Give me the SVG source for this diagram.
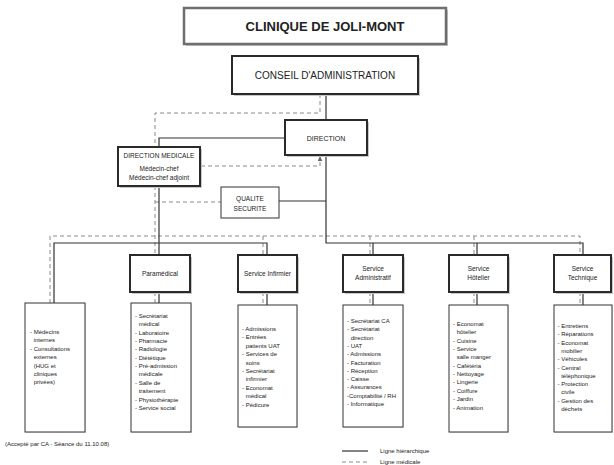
<svg xmlns="http://www.w3.org/2000/svg" width="614" height="465" viewBox="0 0 614 465">
<defs>
<style>
text{font-family:"Liberation Sans",Arial,sans-serif;fill:#222}
.shadow{fill:#c8c8c8}
.main{fill:#fff;stroke:#2a2a2a;stroke-width:2}
.thin{fill:#fff;stroke:#333;stroke-width:1}
.sol{fill:none;stroke:#333;stroke-width:1.2}
.dash{fill:none;stroke:#8a8a8a;stroke-width:1;stroke-dasharray:4 3}
.lbl{font-size:6.5px;text-anchor:middle}
.lst{font-size:6px}
</style>
<marker id="arr" viewBox="0 0 6 6" refX="5" refY="3" markerWidth="5" markerHeight="5" orient="auto">
<path d="M0,0 L6,3 L0,6 z" fill="#666"/>
</marker>
</defs>
<rect width="614" height="465" fill="#fff"/>

<g id="connectors">
<!-- dashed medical lines -->
<path class="dash" d="M320,94 V113 H155 V147"/>
<path class="dash" d="M155,186 V255"/>
<path class="dash" d="M155,202 H221"/>
<path class="dash" d="M50,303 V236 H580 V255"/>
<path class="dash" d="M263,236 V255"/>
<path class="dash" d="M370,236 V255"/>
<path class="dash" d="M474,236 V255"/>
<path class="dash" d="M201,166 H320 V157" marker-end="url(#arr)"/>
<path class="dash" d="M155,292 V304 M263,292 V305 M370,292 V305 M474,292 V305 M580,292 V305"/>
<!-- solid hierarchical lines -->
<path class="sol" d="M326,94 V120"/>
<path class="sol" d="M285,138 H159 V147"/>
<path class="sol" d="M326,155 V243 H583 V255"/>
<path class="sol" d="M373,243 V255 M477,243 V255"/>
<path class="sol" d="M279,201 H326"/>
<path class="sol" d="M159,186 V255"/>
<path class="sol" d="M54,303 V243 H267 V255"/>
<path class="sol" d="M159,292 V304 M267,292 V305 M373,292 V305 M477,292 V305 M583,292 V305"/>
</g>

<g id="title">
<rect x="186" y="10" width="262" height="36" class="shadow"/>
<rect x="184" y="8" width="262" height="36" fill="#fff" stroke="#6e6e6e" stroke-width="2.5"/>
<text x="325" y="31" font-size="13" font-weight="bold" text-anchor="middle">CLINIQUE DE JOLI-MONT</text>
</g>

<g id="conseil">
<rect x="234" y="58" width="186" height="38" class="shadow"/>
<rect x="232" y="56" width="186" height="38" class="main"/>
<text x="325" y="79" font-size="10" text-anchor="middle">CONSEIL D'ADMINISTRATION</text>
</g>

<g id="direction">
<rect x="287" y="122" width="82" height="35" class="shadow"/>
<rect x="285" y="120" width="82" height="35" class="main"/>
<text x="326" y="140.5" font-size="7" text-anchor="middle">DIRECTION</text>
</g>

<g id="direction-medicale">
<rect x="120" y="149" width="82" height="39" class="shadow"/>
<rect x="118" y="147" width="82" height="39" class="main"/>
<text x="159" y="157.5" font-size="6.5" text-anchor="middle">DIRECTION MEDICALE</text>
<text x="159" y="171" font-size="6.5" text-anchor="middle">Médecin-chef</text>
<text x="159" y="180" font-size="6.5" text-anchor="middle">Médecin-chef adjoint</text>
</g>

<g id="qualite">
<rect x="221" y="187" width="58" height="31" class="thin"/>
<text x="250" y="201" class="lbl">QUALITE</text>
<text x="250" y="211" class="lbl">SECURITE</text>
</g>

<g id="paramedical">
<rect x="132" y="257" width="60" height="37" class="shadow"/>
<rect x="130" y="255" width="60" height="37" class="main"/>
<text x="160" y="275.5" class="lbl">Paramédical</text>
</g>

<g id="service-infirmier">
<rect x="240" y="257" width="59" height="37" class="shadow"/>
<rect x="238" y="255" width="59" height="37" class="main"/>
<text x="267.5" y="276" class="lbl">Service Infirmier</text>
</g>

<g id="service-administratif">
<rect x="345" y="257" width="60" height="37" class="shadow"/>
<rect x="343" y="255" width="60" height="37" class="main"/>
<text x="373" y="271" class="lbl">Service</text>
<text x="373" y="280" class="lbl">Administratif</text>
</g>

<g id="service-hotelier">
<rect x="451" y="257" width="59" height="37" class="shadow"/>
<rect x="449" y="255" width="59" height="37" class="main"/>
<text x="478.5" y="271" class="lbl">Service</text>
<text x="478.5" y="280" class="lbl">Hôtelier</text>
</g>

<g id="service-technique">
<rect x="556" y="257" width="57" height="37" class="shadow"/>
<rect x="554" y="255" width="57" height="37" class="main"/>
<text x="582.5" y="271" class="lbl">Service</text>
<text x="582.5" y="280" class="lbl">Technique</text>
</g>

<g id="liste-medecins">
<rect x="26" y="304" width="60" height="129" fill="#e6e6e6"/>
<rect x="25" y="303" width="60" height="129" class="thin"/>
<text class="lst"><tspan x="30" y="334">- Médecins</tspan><tspan x="33.7" dy="8.4">internes</tspan><tspan x="30" dy="8.4">- Consultations</tspan><tspan x="33.7" dy="8.4">externes</tspan><tspan x="33.7" dy="8.4">(HUG et</tspan><tspan x="33.7" dy="8.4">cliniques</tspan><tspan x="33.7" dy="8.4">privées)</tspan></text>
</g>

<g id="liste-paramedical">
<rect x="132" y="304" width="60" height="129" fill="#e6e6e6"/>
<rect x="131" y="303" width="60" height="129" class="thin"/>
<text class="lst"><tspan x="135" y="318">- Secrétariat</tspan><tspan x="138.7" dy="8.35">médical</tspan><tspan x="135" dy="8.35">- Laboratoire</tspan><tspan x="135" dy="8.35">- Pharmacie</tspan><tspan x="135" dy="8.35">- Radiologie</tspan><tspan x="135" dy="8.35">- Diététique</tspan><tspan x="135" dy="8.35">- Pré-admission</tspan><tspan x="138.7" dy="8.35">médicale</tspan><tspan x="135" dy="8.35">- Salle de</tspan><tspan x="138.7" dy="8.35">traitement</tspan><tspan x="135" dy="8.35">- Physiothérapie</tspan><tspan x="135" dy="8.35">- Service social</tspan></text>
</g>

<g id="liste-infirmier">
<rect x="239" y="306" width="59" height="122" fill="#e6e6e6"/>
<rect x="238" y="305" width="59" height="122" class="thin"/>
<text class="lst"><tspan x="242" y="331">- Admissions</tspan><tspan x="242" dy="8.4">- Entrées</tspan><tspan x="245.7" dy="8.4">patients UAT</tspan><tspan x="242" dy="8.4">- Services de</tspan><tspan x="245.7" dy="8.4">soins</tspan><tspan x="242" dy="8.4">- Secrétariat</tspan><tspan x="245.7" dy="8.4">infirmier</tspan><tspan x="242" dy="8.4">- Economat</tspan><tspan x="245.7" dy="8.4">médical</tspan><tspan x="242" dy="8.4">- Pédicure</tspan></text>
</g>

<g id="liste-administratif">
<rect x="344" y="306" width="60" height="122" fill="#e6e6e6"/>
<rect x="343" y="305" width="60" height="122" class="thin"/>
<text class="lst"><tspan x="347" y="323">- Secrétariat CA</tspan><tspan x="347" dy="8.3">- Secrétariat</tspan><tspan x="350.7" dy="8.3">direction</tspan><tspan x="347" dy="8.3">- UAT</tspan><tspan x="347" dy="8.3">- Admissions</tspan><tspan x="347" dy="8.3">- Facturation</tspan><tspan x="347" dy="8.3">- Réception</tspan><tspan x="347" dy="8.3">- Caisse</tspan><tspan x="347" dy="8.3">- Assurances</tspan><tspan x="347" dy="8.3">-Comptabilité / RH</tspan><tspan x="347" dy="8.3">- Informatique</tspan></text>
</g>

<g id="liste-hotelier">
<rect x="450" y="306" width="59" height="127" fill="#e6e6e6"/>
<rect x="449" y="305" width="59" height="127" class="thin"/>
<text class="lst"><tspan x="453" y="326">- Economat</tspan><tspan x="456.7" dy="8.35">hôtelier</tspan><tspan x="453" dy="8.35">- Cuisine</tspan><tspan x="453" dy="8.35">- Service</tspan><tspan x="456.7" dy="8.35">salle manger</tspan><tspan x="453" dy="8.35">- Cafétéria</tspan><tspan x="453" dy="8.35">- Nettoyage</tspan><tspan x="453" dy="8.35">- Lingerie</tspan><tspan x="453" dy="8.35">- Coiffure</tspan><tspan x="453" dy="8.35">- Jardin</tspan><tspan x="453" dy="8.35">- Animation</tspan></text>
</g>

<g id="liste-technique">
<rect x="555" y="306" width="58" height="127" fill="#e6e6e6"/>
<rect x="554" y="305" width="58" height="127" class="thin"/>
<text class="lst"><tspan x="557.5" y="328">- Entretiens</tspan><tspan x="557.5" dy="8.3">- Réparations</tspan><tspan x="557.5" dy="8.3">- Economat</tspan><tspan x="561.2" dy="8.3">mobilier</tspan><tspan x="557.5" dy="8.3">- Véhicules</tspan><tspan x="557.5" dy="8.3">- Central</tspan><tspan x="561.2" dy="8.3">téléphonique</tspan><tspan x="557.5" dy="8.3">- Protection</tspan><tspan x="561.2" dy="8.3">civile</tspan><tspan x="557.5" dy="8.3">- Gestion des</tspan><tspan x="561.2" dy="8.3">déchets</tspan></text>
</g>

<g id="footnote">
<text x="5" y="446" font-size="6">(Accepté par CA - Séance du 11.10.08)</text>
</g>

<g id="legend">
<line x1="342" y1="451" x2="368" y2="451" class="sol"/>
<line x1="342" y1="462" x2="368" y2="462" class="dash"/>
<text x="380" y="453" font-size="6">Ligne hiérarchique</text>
<text x="380" y="463.5" font-size="6">Ligne médicale</text>
</g>
</svg>
